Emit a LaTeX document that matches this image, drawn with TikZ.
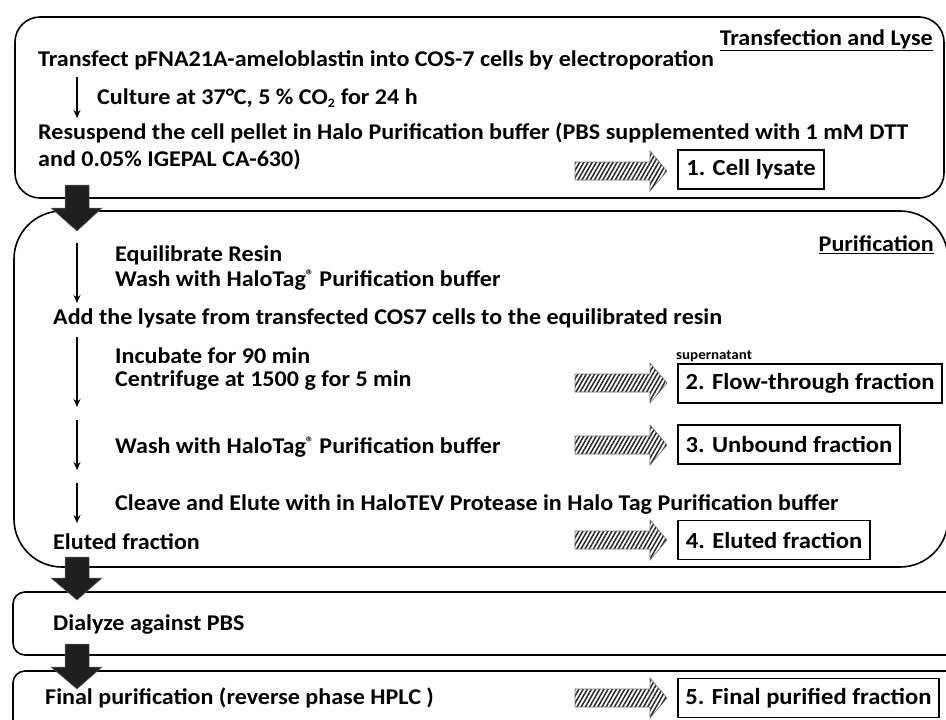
\documentclass[tikz,border=0pt]{standalone}
\usepackage{fontspec}
\setmainfont{Carlito}[FakeStretch=1.07]
\usetikzlibrary{patterns.meta,arrows.meta}
\newcommand{\regmark}{\raisebox{0.5ex}{\fontsize{15}{15}\selectfont ®}}
\begin{document}
\begin{tikzpicture}[x=1pt,y=-1pt,
  every node/.style={font=\fontsize{22.5}{26}\selectfont\bfseries, inner sep=0pt},
  stagebox/.style={draw=black, line width=1.6pt},
  txt/.style={anchor=west},
  ttl/.style={anchor=east},
  fracbox/.style={draw=black, line width=1.4pt, font=\fontsize{23}{27}\selectfont\bfseries, minimum height=39pt},
  thin/.style={line width=1.4pt, -{Stealth[length=8pt,width=7pt]}},
  bigarrow/.style={fill=black!88, draw=black!60, line width=0.5pt},
  hatch/.style={pattern={Lines[angle=60,distance=3.6pt,line width=1.5pt]}, pattern color=black!85, draw=black!55, line width=0.6pt},
  small/.style={font=\fontsize{14}{16}\selectfont\bfseries}
]
\useasboundingbox (0,0) rectangle (946,720);
\fill[white] (0,0) rectangle (946,720);

% stage boxes
\draw[stagebox, rounded corners=25pt] (15,17) rectangle (944,198);
\draw[stagebox, rounded corners=48pt] (14,211) rectangle (948,567);
\draw[stagebox, rounded corners=12pt] (13,592) rectangle (990,655);
\draw[stagebox, rounded corners=12pt] (13,671) rectangle (990,760);

% ---- Transfection and Lyse
\node[ttl] (t1) at (933,40) {\underline{Transfection and Lyse}};
\node[txt] (a1) at (38,60) {Transfect pFNA21A-ameloblastin into COS-7 cells by electroporation};
\node[txt] (a2) at (97,98) {Culture at 37°C, 5 \% CO\textsubscript{\fontsize{13}{13}\selectfont 2} for 24 h};
\node[txt] (a3) at (38,133) {Resuspend the cell pellet in Halo Purification buffer (PBS supplemented with 1 mM DTT};
\node[txt] (a4) at (38,160) {and 0.05\% IGEPAL CA-630)};
\coordinate (s1) at (77,77);
\coordinate (e1) at (77,118);
\draw[thin] (s1) -- (e1);
\node[fracbox, minimum width=146pt] (f1) at (751,169.5) {1. Cell lysate};

% ---- Purification
\node[ttl] (t2) at (934,245) {\underline{Purification}};
\node[txt] (b1) at (115,255) {Equilibrate Resin};
\node[txt] (b2) at (115,280) {Wash with HaloTag\regmark{} Purification buffer};
\node[txt] (b3) at (53,318) {Add the lysate from transfected COS7 cells to the equilibrated resin};
\node[txt] (b4) at (115,356) {Incubate for 90 min};
\node[txt] (b5) at (115,381) {Centrifuge at 1500 g for 5 min};
\node[txt] (b6) at (115,447) {Wash with HaloTag\regmark{} Purification buffer};
\node[txt] (b7) at (115,504) {Cleave and Elute with in HaloTEV Protease in Halo Tag Purification buffer};
\node[txt] (b8) at (53,542) {Eluted fraction};
\node[small, anchor=south west] (sup) at (676,362) {supernatant};
\node[fracbox, minimum width=264pt] (f2) at (810,383.5) {2. Flow-through fraction};
\node[fracbox, minimum width=222pt] (f3) at (789,444.5) {3. Unbound fraction};
\node[fracbox, minimum width=192pt] (f4) at (774,540) {4. Eluted fraction};

\coordinate (s2) at (77,243); \coordinate (e2) at (77,303);
\coordinate (s3) at (77,337); \coordinate (e3) at (77,407);
\coordinate (s4) at (77,420); \coordinate (e4) at (77,470);
\coordinate (s5) at (77,483); \coordinate (e5) at (77,523);
\draw[thin] (s2) -- (e2);
\draw[thin] (s3) -- (e3);
\draw[thin] (s4) -- (e4);
\draw[thin] (s5) -- (e5);

% ---- Dialysis / Final
\node[txt] (c1) at (53,625) {Dialyze against PBS};
\node[txt] (d1) at (45,698) {Final purification (reverse phase HPLC )};
\node[fracbox, minimum width=261pt] (f5) at (808.5,698) {5. Final purified fraction};

% hatched arrows
\foreach \yy in {171,383,445,540,698}{
  \draw[hatch] (575,\yy-9) -- (650,\yy-9) -- (650,\yy-20) -- (667,\yy) -- (650,\yy+20) -- (650,\yy+9) -- (575,\yy+9) -- cycle;
}

% big black arrows
\foreach \top/\base/\tip in {185/208/231, 557/578/600, 644/667/689}{
  \draw[bigarrow] (65,\top) -- (89,\top) -- (89,\base) -- (102,\base) -- (77,\tip) -- (51,\base) -- (65,\base) -- cycle;
}
\end{tikzpicture}
\end{document}
